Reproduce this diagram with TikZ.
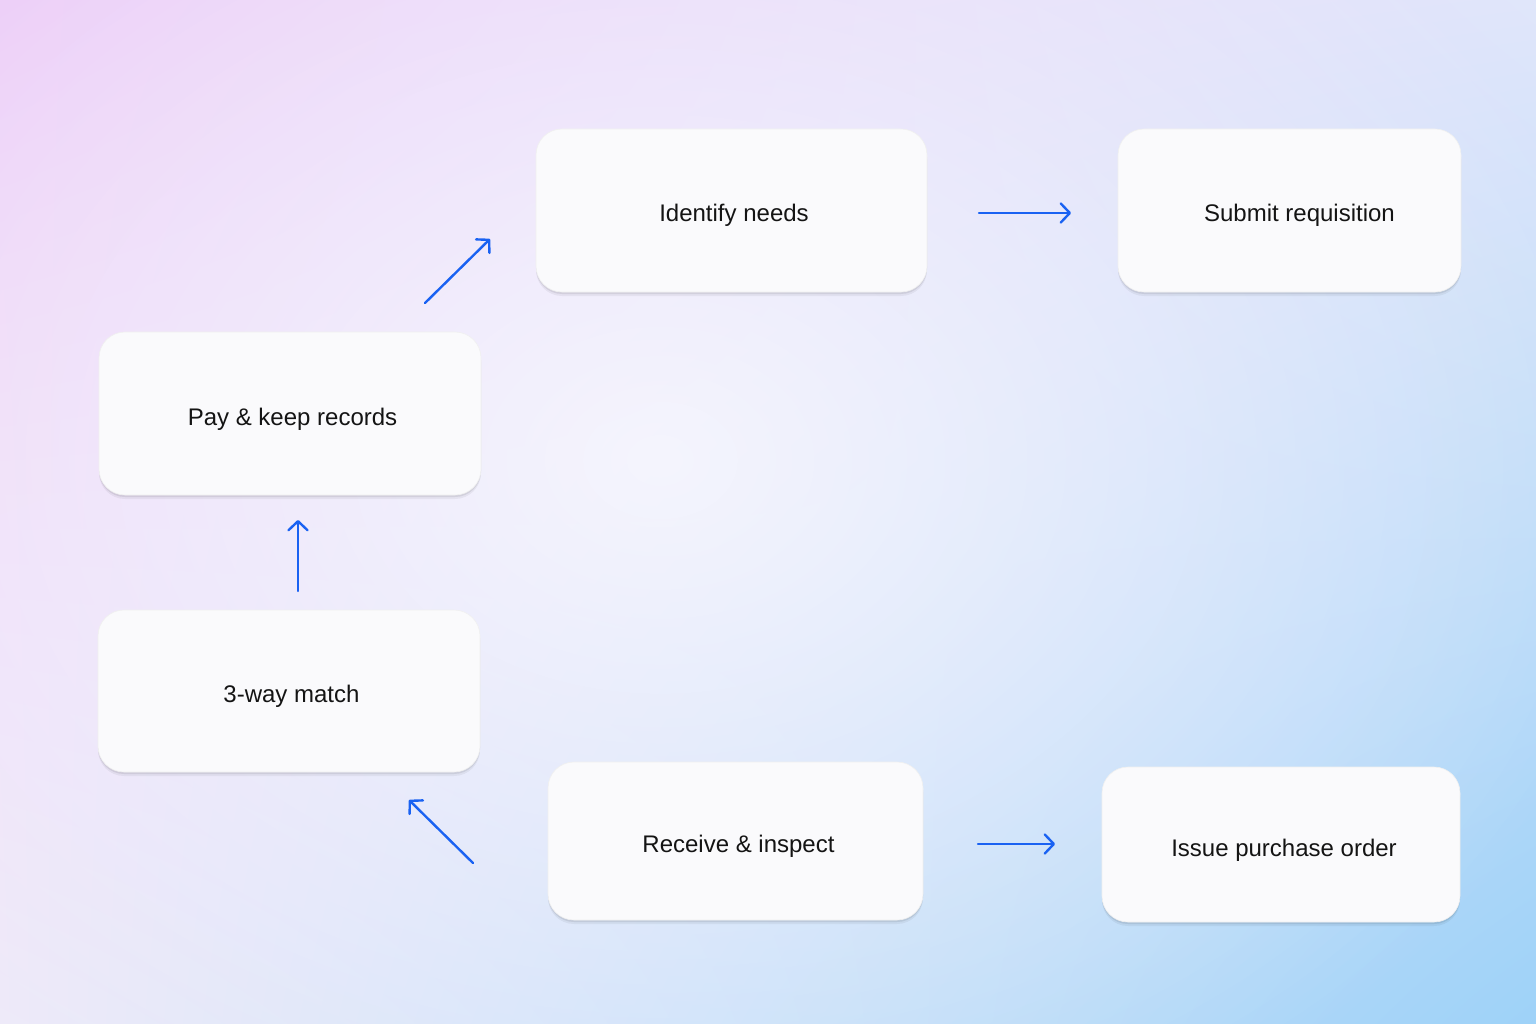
\documentclass[tikz,border=0pt]{standalone}
\usepackage{fontspec}
\setmainfont{Liberation Sans}
\usetikzlibrary{arrows.meta,shadows,fadings,shadings}
\definecolor{bgUL}{HTML}{ECCCF8}
\definecolor{bgUR}{HTML}{E0E6FA}
\definecolor{bgLL}{HTML}{EEEAF9}
\definecolor{bgLR}{HTML}{9ED2F8}
\definecolor{boxfill}{HTML}{FAFAFC}
\definecolor{arrowblue}{HTML}{1A62F2}
\definecolor{txt}{HTML}{141414}
\tikzfading[name=centerglow, inner color=transparent!28, outer color=transparent!100]
\tikzset{
  stepbox/.style={draw=black!6, line width=0.6pt, fill=boxfill, rounded corners=26pt,
    text=txt, font=\fontsize{24}{28}\selectfont, inner sep=0pt,
    text height=23pt, text depth=0pt,
    drop shadow={shadow xshift=0pt, shadow yshift=-4pt, opacity=0.05, fill=black},
    drop shadow={shadow xshift=0pt, shadow yshift=-2pt, opacity=0.08, fill=black}},
  flow/.style={draw=arrowblue, line width=2.4pt, line cap=round,
    -{Straight Barb[length=9pt, width=19pt, line width=2.4pt, line cap=round, line join=round]}}
}
\begin{document}
\begin{tikzpicture}[x=1pt, y=-1pt]
\useasboundingbox (0,0) rectangle (1536,1024);
\shade[upper left=bgUL, upper right=bgUR, lower left=bgLL, lower right=bgLR] (0,0) rectangle (1536,1024);
\fill[white, path fading=centerglow] (660,460) ellipse (1000 and 760);
\node[stepbox, minimum width=391pt, minimum height=163pt] (ident) at (731.5,210.5) {\hspace*{5pt}Identify needs};
\node[stepbox, minimum width=343pt, minimum height=163pt] (submit) at (1289.5,210.5) {\hspace*{20pt}Submit requisition};
\node[stepbox, minimum width=382pt, minimum height=163pt] (pay) at (290,413.5) {\hspace*{5pt}Pay \& keep records};
\node[stepbox, minimum width=382pt, minimum height=162pt] (match) at (289,691) {\hspace*{5pt}3-way match};
\node[stepbox, minimum width=375pt, minimum height=158pt] (recv) at (735.5,841) {\hspace*{6pt}Receive \& inspect};
\node[stepbox, minimum width=358pt, minimum height=155pt] (issue) at (1281,844.5) {\hspace*{6pt}Issue purchase order};
\coordinate (a1s) at (425,303); \coordinate (a1e) at (490,239);
\coordinate (a2s) at (979,213); \coordinate (a2e) at (1071,213);
\coordinate (a3s) at (298,591); \coordinate (a3e) at (298,520);
\coordinate (a4s) at (473,863); \coordinate (a4e) at (409,800);
\coordinate (a5s) at (978,844); \coordinate (a5e) at (1055,844);
\draw[flow] (a1s) -- (a1e);
\draw[flow] (a2s) -- (a2e);
\draw[flow] (a3s) -- (a3e);
\draw[flow] (a4s) -- (a4e);
\draw[flow] (a5s) -- (a5e);
\end{tikzpicture}
\end{document}
